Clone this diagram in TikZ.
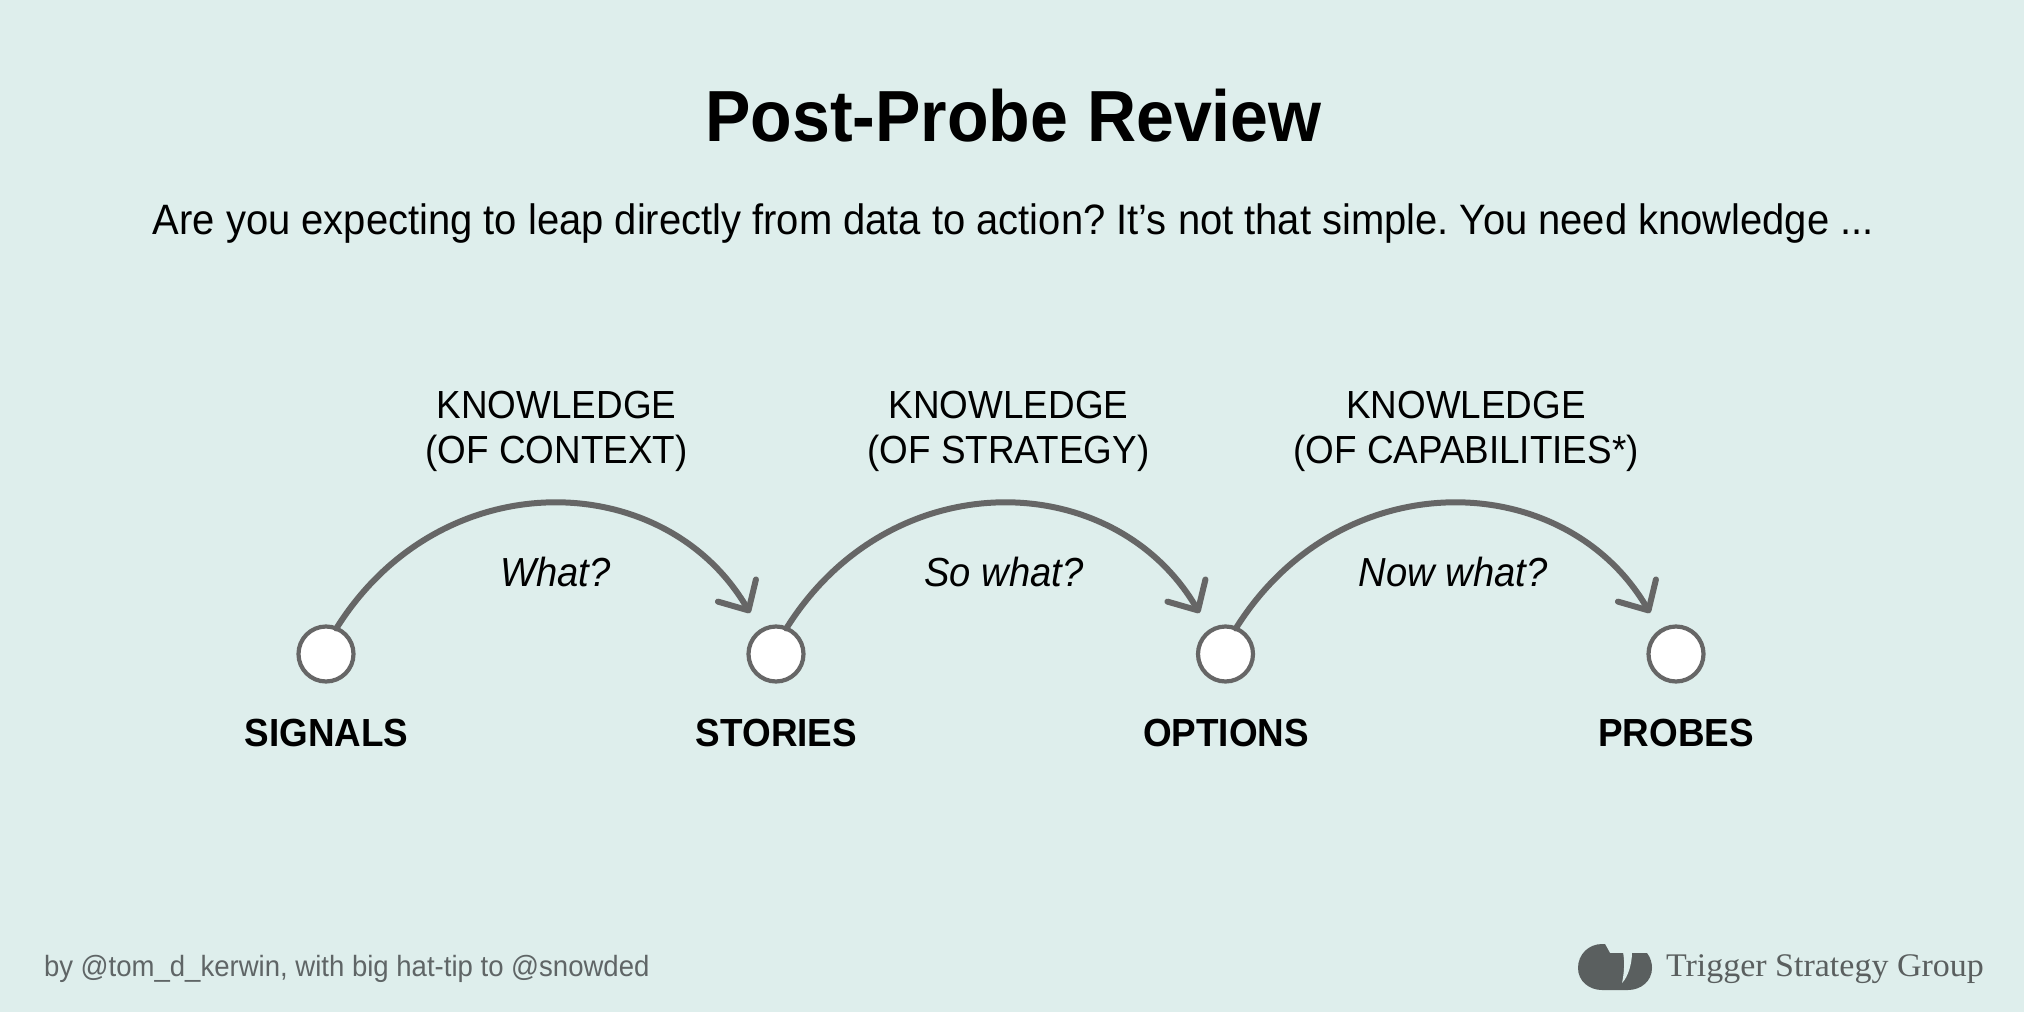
\documentclass[tikz,border=0pt]{standalone}
\usepackage{fontspec}
\setmainfont[FakeStretch=0.94]{Liberation Sans}
\newfontfamily\logofont[FakeStretch=1.03]{Liberation Serif}
\usetikzlibrary{arrows.meta}
\definecolor{bgc}{HTML}{DEEEEC}
\definecolor{linec}{HTML}{666666}
\definecolor{logoc}{HTML}{5A5F5F}
\definecolor{footc}{HTML}{5F6566}
\tikzset{
  x=0.5pt,y=-0.5pt,
  every node/.style={inner sep=0pt,outer sep=0pt,text=black},
  dot/.style={circle,draw=linec,fill=white,line width=2.1pt,minimum size=27.5pt},
  hop/.style={draw=linec,line width=3pt,line cap=round,-{Straight Barb[length=11.5pt,width=22pt,round]}},
  titletext/.style={anchor=base,font=\fontsize{36.2}{40}\selectfont\bfseries},
  subtext/.style={anchor=base,font=\fontsize{21.25}{24}\selectfont},
  knowtext/.style={align=center,font=\fontsize{19.6}{22.5}\selectfont},
  whattext/.style={anchor=base,font=\fontsize{20.3}{24}\selectfont\itshape},
  steptext/.style={anchor=base,font=\fontsize{19.6}{24}\selectfont\bfseries},
  foottext/.style={anchor=base west,text=footc,font=\fontsize{14.65}{18}\selectfont},
  logotext/.style={anchor=base west,text=logoc,font=\logofont\fontsize{16.5}{20}\selectfont},
}
\begin{document}
\frenchspacing
\begin{tikzpicture}
\useasboundingbox (0,0) rectangle (2024,1012);
\fill[bgc] (0,0) rectangle (2024,1012);
\node[titletext] (title) at (1013.5,141) {Post-Probe Review};
\node[subtext] (sub) at (1013.5,234) {Are you expecting to leap directly from data to action? It’s not that simple. You need knowledge ...};
\node[dot] (n1) at (326,654) {};
\node[dot] (n2) at (776,654) {};
\node[dot] (n3) at (1225.5,654) {};
\node[dot] (n4) at (1676,654) {};
\coordinate (t2) at ([shift={(-26,-41)}]n2.center);
\coordinate (t3) at ([shift={(-26,-41)}]n3.center);
\coordinate (t4) at ([shift={(-26,-41)}]n4.center);
\draw[hop] (n1.68) .. controls +(105,-168) and +(-85,-146) .. (t2);
\draw[hop] (n2.68) .. controls +(105,-168) and +(-85,-146) .. (t3);
\draw[hop] (n3.68) .. controls +(105,-168) and +(-85,-146) .. (t4);
\node[knowtext] (k1) at (556.5,431) {KNOWLEDGE\\(OF CONTEXT)};
\node[knowtext] (k2) at (1008.5,431) {KNOWLEDGE\\(OF STRATEGY)};
\node[knowtext] (k3) at (1466,431) {KNOWLEDGE\\(OF CAPABILITIES*)};
\node[whattext] (w1) at (555.5,586) {What?};
\node[whattext] (w2) at (1004,586) {So what?};
\node[whattext] (w3) at (1453,586) {Now what?};
\node[steptext] (s1) at (326.5,746) {SIGNALS};
\node[steptext] (s2) at (776.5,746) {STORIES};
\node[steptext] (s3) at (1226,746) {OPTIONS};
\node[steptext] (s4) at (1676,746) {PROBES};
\node[foottext] (by) at (44,976) {by @tom\_d\_kerwin, with big hat-tip to @snowded};
\fill[logoc] (1602,944) -- (1605,944) -- (1610,953) -- (1647,953)
  .. controls (1651,958) and (1652,964) .. (1652,968)
  .. controls (1652,981) and (1641,990) .. (1628,990)
  -- (1602,990) .. controls (1589,990) and (1578,981) .. (1578,968)
  .. controls (1578,954) and (1589,944) .. (1602,944) -- cycle;
\fill[bgc] (1623,952) .. controls (1625,962) and (1624,974) .. (1622,983)
  .. controls (1628,977) and (1632,964) .. (1632,952) -- cycle;
\node[logotext] (brand) at (1666,976) {Trigger Strategy Group};
\end{tikzpicture}
\end{document}
